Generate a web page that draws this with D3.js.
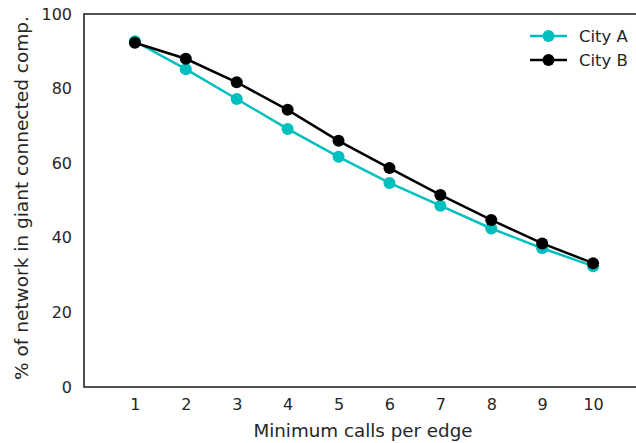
<!DOCTYPE html>
<html><head><meta charset="utf-8">
<script src="https://cdn.jsdelivr.net/npm/d3@7"></script>
<style>body{margin:0;background:#fff}svg{display:block}text{font-family:"DejaVu Sans",sans-serif;fill:#262626}</style>
</head><body><svg id="c" width="636" height="443"></svg>
<script>
const xs = [1,2,3,4,5,6,7,8,9,10];
const cityA = [92.7,85.2,77.2,69.2,61.7,54.7,48.6,42.5,37.2,32.4];
const cityB = [92.3,88.0,81.7,74.3,66.0,58.7,51.5,44.8,38.5,33.2];
const yTicks = [0,20,40,60,80,100];
const seriesNames = ["City A","City B"];
const colors = ["#00BFBF","#000000"];

const svg = d3.select("#c");
const L=84, R=644, T=14, B=387;
const x = d3.scaleLinear().domain([0,11]).range([L,R]);
const y = d3.scaleLinear().domain([0,100]).range([B,T]);

svg.append("rect").attr("x",L).attr("y",T).attr("width",R-L).attr("height",B-T)
  .attr("fill","none").attr("stroke","#262626").attr("stroke-width",1.6);

const xa = svg.append("g").attr("transform",`translate(0,${B})`)
  .call(d3.axisBottom(x).tickValues(xs).tickSize(0).tickPadding(12).tickFormat(d3.format("d")));
xa.select(".domain").remove();
xa.selectAll("text").attr("font-size",16).style("fill","#262626");
const ya = svg.append("g").attr("transform",`translate(${L},0)`)
  .call(d3.axisLeft(y).tickValues(yTicks).tickSize(0).tickPadding(12));
ya.select(".domain").remove();
ya.selectAll("text").attr("font-size",16).style("fill","#262626");

svg.append("text").attr("x",363).attr("y",437).attr("text-anchor","middle")
  .attr("font-size",18.3).text("Minimum calls per edge");
svg.append("text").attr("transform",`translate(28,198) rotate(-90)`).attr("text-anchor","middle")
  .attr("font-size",18.5).text("% of network in giant connected comp.");

const line = d3.line().x((d,i)=>x(xs[i])).y(d=>y(d));
[cityA,cityB].forEach((s,k)=>{
  svg.append("path").datum(s).attr("d",line).attr("fill","none")
    .attr("stroke",colors[k]).attr("stroke-width",2.5);
  svg.selectAll(null).data(s).enter().append("circle")
    .attr("cx",(d,i)=>x(xs[i])).attr("cy",d=>y(d)).attr("r",6).attr("fill",colors[k]);
});

seriesNames.forEach((n,k)=>{
  const ly = 36 + k*24;
  svg.append("line").attr("x1",530).attr("x2",567).attr("y1",ly).attr("y2",ly)
    .attr("stroke",colors[k]).attr("stroke-width",2.5);
  svg.append("circle").attr("cx",548.5).attr("cy",ly).attr("r",6).attr("fill",colors[k]);
  svg.append("text").attr("x",579).attr("y",ly+6).attr("font-size",16.5).text(n);
});
</script></body></html>
